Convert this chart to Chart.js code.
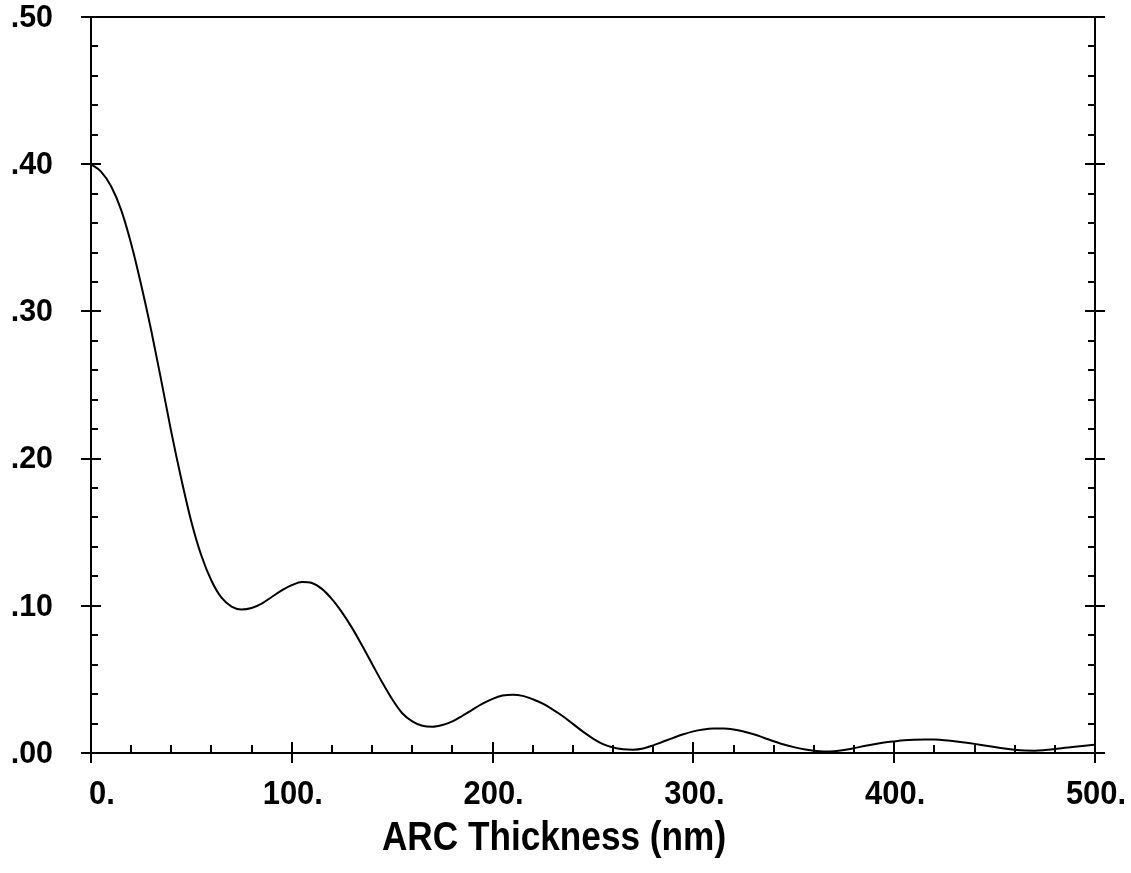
<!DOCTYPE html>
<html>
<head>
<meta charset="utf-8">
<script src="https://cdn.jsdelivr.net/npm/chart.js@4"></script>
<style>
html,body{margin:0;padding:0;background:#fff;}
#wrap{width:1131px;height:873px;}
</style>
</head>
<body>
<div id="wrap"><canvas id="c" width="1131" height="873"></canvas></div>
<script>
const thickness = [0,5,10,15,20,25,30,35,40,45,50,55,60,65,70,75,80,85,90,95,100,105,110,115,120,125,130,135,140,145,150,155,160,165,170,175,180,185,190,195,200,205,210,215,220,225,230,235,240,245,250,255,260,265,270,275,280,285,290,295,300,305,310,315,320,325,330,335,340,345,350,355,360,365,370,375,380,385,390,395,400,405,410,415,420,425,430,435,440,445,450,455,460,465,470,475,480,485,490,495,500];
const reflectivity = [0.400,0.395,0.385,0.369,0.346,0.318,0.287,0.253,0.218,0.186,0.157,0.134,0.117,0.1055,0.0995,0.0975,0.0985,0.1015,0.106,0.1105,0.114,0.1162,0.1155,0.1115,0.1045,0.0955,0.085,0.073,0.0605,0.048,0.0365,0.027,0.0215,0.0185,0.0178,0.019,0.0215,0.0253,0.0295,0.0335,0.0368,0.039,0.0396,0.0388,0.0365,0.0335,0.0295,0.025,0.0198,0.0145,0.0098,0.006,0.0037,0.0025,0.0022,0.003,0.0052,0.0078,0.0103,0.0127,0.0147,0.0159,0.0166,0.0167,0.016,0.0146,0.0127,0.0104,0.008,0.0058,0.004,0.0025,0.0015,0.001,0.0012,0.002,0.0033,0.0047,0.006,0.0071,0.0079,0.0086,0.009,0.0092,0.0091,0.0087,0.008,0.0072,0.0062,0.0051,0.004,0.003,0.0022,0.0017,0.0016,0.002,0.0027,0.0035,0.0043,0.005,0.0056];
const xTickValues = [0,100,200,300,400,500];
const xTickLabels = ['0.','100.','200.','300.','400.','500.'];
const yTickValues = [0,0.1,0.2,0.3,0.4,0.5];
const yTickLabels = ['.00','.10','.20','.30','.40','.50'];
const xMinorStep = 20;
const yMinorStep = 0.02;
const xTitle = 'ARC Thickness (nm)';

const FONT = "'Liberation Sans', Arial, sans-serif";

function stretchedText(ctx, text, x, y, font, sx) {
  ctx.save();
  ctx.font = font;
  ctx.translate(x, y);
  ctx.scale(sx, 1);
  ctx.fillText(text, 0, 0);
  ctx.restore();
}

const framePlugin = {
  id: 'frame',
  afterDraw(chart) {
    const ctx = chart.ctx;
    const a = chart.chartArea;
    const xs = chart.scales.x, ys = chart.scales.y;
    ctx.save();
    ctx.strokeStyle = '#000';
    ctx.lineWidth = 2;
    ctx.strokeRect(a.left, a.top, a.right - a.left, a.bottom - a.top);
    ctx.beginPath();
    for (let v = xs.min; v <= xs.max + 1e-9; v += xMinorStep) {
      const px = Math.round(xs.getPixelForValue(v));
      const major = xTickValues.some(t => Math.abs(t - v) < 1e-6);
      if (major) {
        ctx.moveTo(px, a.bottom - 11); ctx.lineTo(px, a.bottom + 10);
      } else {
        ctx.moveTo(px, a.bottom - 8); ctx.lineTo(px, a.bottom);
      }
    }
    const nY = Math.round((ys.max - ys.min) / yMinorStep);
    for (let i = 0; i <= nY; i++) {
      const v = ys.min + i * yMinorStep;
      const py = Math.round(ys.getPixelForValue(v));
      const major = yTickValues.some(t => Math.abs(t - v) < 1e-6);
      if (major) {
        ctx.moveTo(a.left - 10, py); ctx.lineTo(a.left + 10, py);
        ctx.moveTo(a.right - 10, py); ctx.lineTo(a.right + 10, py);
      } else {
        ctx.moveTo(a.left, py); ctx.lineTo(a.left + 7, py);
        ctx.moveTo(a.right - 7, py); ctx.lineTo(a.right, py);
      }
    }
    ctx.stroke();

    ctx.fillStyle = '#000';
    ctx.textBaseline = 'middle';
    ctx.textAlign = 'right';
    yTickValues.forEach((v, i) => {
      stretchedText(ctx, yTickLabels[i], 53, ys.getPixelForValue(v) + 1, 'bold 32px ' + FONT, 0.95);
    });
    xTickValues.forEach((v, i) => {
      const px = xs.getPixelForValue(v);
      if (i === 0) { ctx.textAlign = 'left'; stretchedText(ctx, xTickLabels[i], px - 2, 795, 'bold 34px ' + FONT, 0.91); }
      else { ctx.textAlign = 'center'; stretchedText(ctx, xTickLabels[i], px + 1, 795, 'bold 34px ' + FONT, 0.91); }
    });
    ctx.textAlign = 'center';
    stretchedText(ctx, xTitle, 554, 839, 'bold 40px ' + FONT, 0.88);
    ctx.restore();
  }
};

new Chart(document.getElementById('c'), {
  type: 'line',
  data: {
    datasets: [{
      data: thickness.map((t, i) => ({ x: t, y: reflectivity[i] })),
      borderColor: '#000',
      borderWidth: 2,
      pointRadius: 0,
      fill: false,
      cubicInterpolationMode: 'monotone'
    }]
  },
  options: {
    responsive: false,
    animation: false,
    devicePixelRatio: 1,
    layout: { padding: { left: 91, right: 36, top: 17, bottom: 120 } },
    plugins: { legend: { display: false }, tooltip: { enabled: false } },
    scales: {
      x: { type: 'linear', min: 0, max: 500, display: false },
      y: { type: 'linear', min: 0, max: 0.5, display: false }
    }
  },
  plugins: [framePlugin]
});
</script>
</body>
</html>
